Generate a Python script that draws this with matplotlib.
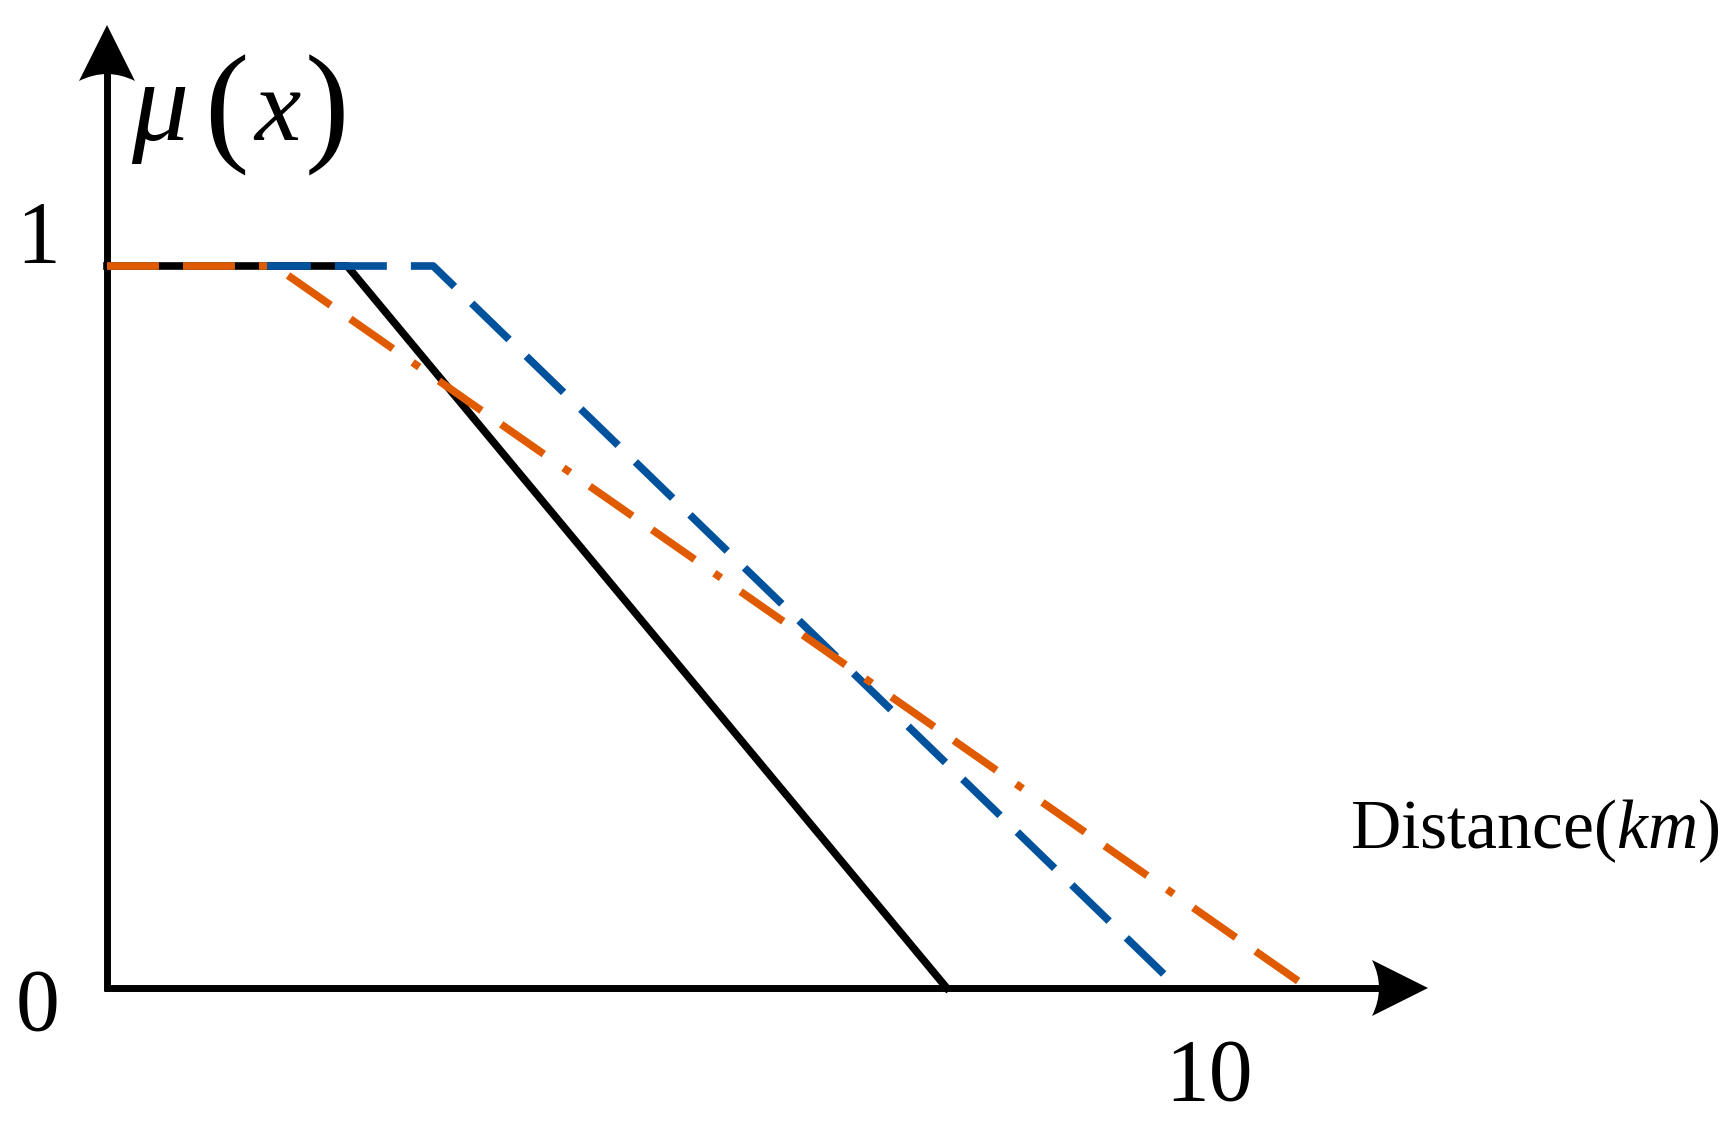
import matplotlib
matplotlib.use('Agg')
import matplotlib.pyplot as plt
from matplotlib.patches import PathPatch
from matplotlib.path import Path

plt.rcParams['font.family'] = ['Liberation Serif', 'DejaVu Serif']
plt.rcParams['mathtext.fontset'] = 'custom'
plt.rcParams['mathtext.rm'] = 'Liberation Serif'
plt.rcParams['mathtext.it'] = 'Liberation Serif:italic'
plt.rcParams['lines.scale_dashes'] = False

# membership functions mu(x) vs distance
x_black = [0, 2.18, 7.62]
y_black = [1, 1, 0]
x_blue = [0, 2.96, 9.72]
y_blue = [1, 1, 0]
x_orange = [0, 1.52, 10.9]
y_orange = [1, 1, 0]
y_ticks = [0, 1]
x_ticks = [10]

W, H = 1728, 1129
fig = plt.figure(figsize=(W/100, H/100), dpi=100)
ax = fig.add_axes([0, 0, 1, 1])
# pixel layout: origin at (107, 988), 110.2 px per km, 722 px per unit of mu
SX, SY, X0, Y0 = 110.2, 722.0, 107, 988
ax.set_xlim(-X0/SX, (W-X0)/SX)
ax.set_ylim(-(H-Y0)/SY, Y0/SY)
ax.axis('off')

def d(px, py):
    return ((px-X0)/SX, (Y0-py)/SY)

# axes with arrows
ax.plot(*zip(d(104, 988), d(1380, 988)), color='k', lw=5, solid_capstyle='butt', zorder=1)
ax.plot(*zip(d(107, 991), d(107, 72)), color='k', lw=5, solid_capstyle='butt', zorder=1)

def arrow(pts):
    codes = [Path.MOVETO, Path.LINETO, Path.CURVE3, Path.CURVE3, Path.CURVE3, Path.CURVE3, Path.CLOSEPOLY]
    ax.add_patch(PathPatch(Path([d(*p) for p in pts], codes), fc='k', ec='none', zorder=2))

arrow([(1428, 988), (1372, 960), (1379, 974), (1379, 988), (1379, 1002), (1372, 1016), (1428, 988)])
arrow([(107, 25), (79, 81), (93, 74), (107, 74), (121, 74), (135, 81), (107, 25)])

lw = 5.5
ax.plot(x_black, y_black, color='black', lw=lw, solid_joinstyle='miter', zorder=3)
ax.plot(x_blue, y_blue, color='#00529C', lw=lw, dashes=(37.4, 17.3), zorder=4)
ax.plot(x_orange, y_orange, color='#E05A00', lw=lw,
        dashes=(37.4, 17.3, 37.4, 17.3, 5.8, 17.3), zorder=5)

# tick labels
for v in y_ticks:
    ax.text(-0.626, v + (0.0055 if v else -0.058), str(v), ha='center', va='baseline', fontsize=63)
for v in x_ticks:
    ax.text(v, -0.155, str(v), ha='center', va='baseline', fontsize=63)

# axis labels
def f(px, py):
    return px/W, 1 - py/H

fig.text(*f(160, 140), '\u03bc', style='italic', fontsize=82, ha='center', va='baseline')
fig.text(*f(226, 115), '(', fontsize=96, ha='center', va='center')
fig.text(*f(277, 140), 'x', style='italic', fontsize=75, ha='center', va='baseline')
fig.text(*f(327, 115), ')', fontsize=96, ha='center', va='center')
fig.text(*f(1350, 848), 'Distance($km$)', fontsize=50, ha='left', va='baseline')

fig.savefig('out.png', dpi=100)
